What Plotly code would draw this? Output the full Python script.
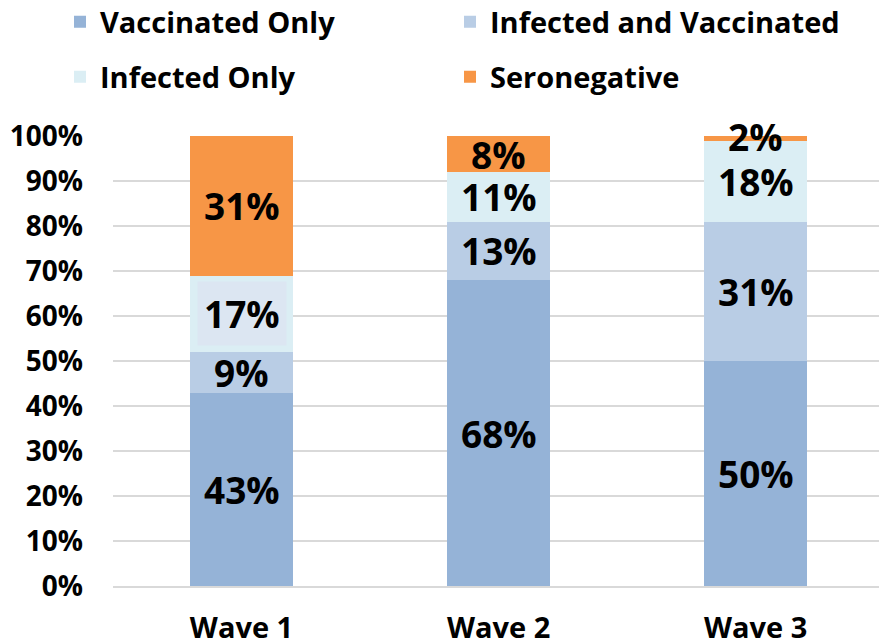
import plotly.graph_objects as go

waves = ["Wave 1", "Wave 2", "Wave 3"]
series_names = ["Vaccinated Only", "Infected and Vaccinated", "Infected Only", "Seronegative"]
vaccinated_only = [43, 68, 50]
infected_and_vaccinated = [9, 13, 31]
infected_only = [17, 11, 18]
seronegative = [31, 8, 2]
y_ticks = [0, 10, 20, 30, 40, 50, 60, 70, 80, 90, 100]
y_tick_labels = ["0%", "10%", "20%", "30%", "40%", "50%", "60%", "70%", "80%", "90%", "100%"]

colors = ["#95B3D7", "#B9CDE5", "#DBEEF4", "#F79646"]
series_values = [vaccinated_only, infected_and_vaccinated, infected_only, seronegative]

FONT = "Open Sans"
fig = go.Figure()
for i, (name, vals) in enumerate(zip(series_names, series_values)):
    fig.add_trace(go.Bar(
        x=waves, y=vals, name=name, marker=dict(color=colors[i], line=dict(width=0)),
        width=0.4, legend="legend" if i < 2 else "legend2", hoverinfo="skip",
    ))

annotations = []
cum = [0, 0, 0]
for i, vals in enumerate(series_values):
    for j, v in enumerate(vals):
        mid = cum[j] + v / 2
        cum[j] += v
        a = dict(x=waves[j], y=mid, text=f"{v}%", showarrow=False,
                 font=dict(family=FONT, size=37, color="#000000", weight="bold"),
                 xref="x", yref="y")
        if i == 2 and j == 0:
            a.update(bgcolor="#DCE6F2", borderpad=6)
        annotations.append(a)

PLOT_TOP, PLOT_BOTTOM, PLOT_LEFT, PLOT_W = 136, 586, 113, 766
PLOT_H = PLOT_BOTTOM - PLOT_TOP

legend_common = dict(orientation="h", font=dict(family=FONT, size=29, color="#000000", weight="bold"),
                     entrywidth=345, entrywidthmode="pixels", xanchor="left", yanchor="middle",
                     traceorder="normal", bgcolor="rgba(0,0,0,0)", itemwidth=30,
                     xref="paper", yref="paper")

fig.update_layout(
    width=879, height=644,
    margin=dict(l=PLOT_LEFT, r=0, t=PLOT_TOP, b=644 - PLOT_BOTTOM, autoexpand=False),
    paper_bgcolor="white", plot_bgcolor="white",
    barmode="stack",
    showlegend=True,
    legend=dict(x=(60 - PLOT_LEFT) / PLOT_W, y=(PLOT_BOTTOM - 22) / PLOT_H, **legend_common),
    legend2=dict(x=(60 - PLOT_LEFT) / PLOT_W, y=(PLOT_BOTTOM - 77) / PLOT_H, **legend_common),
    annotations=annotations,
    xaxis=dict(range=[-0.5, 2.48], showgrid=False, showline=True, linecolor="#D9D9D9", linewidth=2,
               tickfont=dict(family=FONT, size=29, color="#000000", weight="bold"),
               ticks="", ticklabelstandoff=15, fixedrange=True),
    yaxis=dict(range=[0, 100], tickmode="array", tickvals=y_ticks, ticktext=y_tick_labels,
               showgrid=True, gridcolor="#D9D9D9", gridwidth=1.5, zeroline=False, showline=False,
               tickfont=dict(family=FONT, size=28, color="#000000", weight="bold"),
               ticks="", ticklabelstandoff=29, fixedrange=True),
)

fig.write_html("out.html", config={"displayModeBar": False},
               post_script="document.body.style.margin='0';")
